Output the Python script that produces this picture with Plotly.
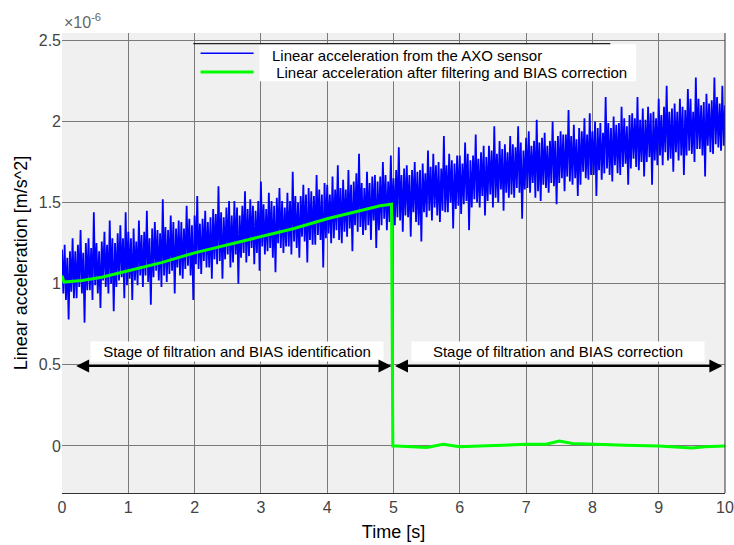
import plotly.graph_objects as go

# ---- data (units of 1e-6 m/s^2) ----
blue_dt = 0.02
blue_vals = [
    1.21, 0.94, 1.24, 0.90, 1.16, 0.78, 1.20, 0.95, 1.28, 0.91,
    1.20, 0.91, 1.24, 0.98, 1.33, 0.94, 1.19, 0.76, 1.25, 0.96,
    1.28, 0.96, 1.22, 0.90, 1.44, 0.99, 1.25, 0.94, 1.20, 0.85,
    1.26, 1.02, 1.32, 0.98, 1.24, 0.94, 1.39, 1.00, 1.28, 0.83,
    1.25, 0.98, 1.31, 1.02, 1.36, 1.04, 1.28, 0.91, 1.44, 0.99,
    1.32, 1.03, 1.28, 0.90, 1.34, 1.02, 1.26, 0.99, 1.39, 1.05,
    1.30, 0.98, 1.32, 1.05, 1.45, 1.01, 1.28, 0.87, 1.34, 1.04,
    1.38, 1.08, 1.33, 1.02, 1.31, 0.98, 1.52, 1.05, 1.35, 1.01,
    1.33, 1.06, 1.42, 1.08, 1.38, 0.94, 1.34, 1.10, 1.39, 1.05,
    1.38, 1.03, 1.34, 1.09, 1.48, 1.11, 1.40, 1.05, 1.36, 0.90,
    1.42, 1.12, 1.54, 1.09, 1.37, 1.06, 1.40, 1.14, 1.45, 1.10,
    1.38, 1.10, 1.41, 1.03, 1.46, 1.15, 1.43, 1.12, 1.60, 1.14,
    1.44, 1.03, 1.41, 1.15, 1.47, 1.18, 1.51, 1.10, 1.42, 1.13,
    1.51, 1.18, 1.47, 1.00, 1.42, 1.16, 1.48, 1.19, 1.57, 1.13,
    1.46, 1.17, 1.52, 1.22, 1.48, 1.12, 1.45, 1.19, 1.51, 1.08,
    1.63, 1.23, 1.49, 1.18, 1.46, 1.20, 1.56, 1.22, 1.51, 1.16,
    1.48, 1.07, 1.53, 1.25, 1.59, 1.22, 1.51, 1.19, 1.47, 1.23,
    1.56, 1.23, 1.51, 1.18, 1.69, 1.26, 1.54, 1.22, 1.50, 1.16,
    1.54, 1.29, 1.61, 1.26, 1.55, 1.13, 1.59, 1.27, 1.57, 1.24,
    1.54, 1.24, 1.67, 1.30, 1.58, 1.27, 1.55, 1.10, 1.62, 1.28,
    1.61, 1.31, 1.55, 1.25, 1.66, 1.28, 1.58, 1.33, 1.73, 1.27,
    1.59, 1.25, 1.64, 1.32, 1.58, 1.29, 1.70, 1.34, 1.61, 1.20,
    1.63, 1.36, 1.68, 1.32, 1.80, 1.35, 1.62, 1.30, 1.59, 1.33,
    1.69, 1.36, 1.62, 1.27, 1.66, 1.39, 1.67, 1.22, 1.63, 1.33,
    1.66, 1.36, 1.75, 1.40, 1.67, 1.33, 1.63, 1.38, 1.79, 1.37,
    1.65, 1.36, 1.70, 1.41, 1.84, 1.39, 1.67, 1.32, 1.71, 1.42,
    1.73, 1.41, 1.67, 1.29, 1.70, 1.44, 1.75, 1.38, 1.69, 1.36,
    1.70, 1.26, 1.74, 1.44, 1.68, 1.41, 1.82, 1.45, 1.72, 1.39,
    1.80, 1.47, 1.73, 1.42, 1.75, 1.38, 1.71, 1.45, 1.91, 1.44,
    1.73, 1.44, 1.80, 1.50, 1.76, 1.34, 1.74, 1.46, 1.79, 1.48,
    1.79, 1.43, 1.74, 1.49, 1.87, 1.51, 1.80, 1.33, 1.76, 1.47,
    1.79, 1.52, 1.92, 1.50, 1.77, 1.47, 1.81, 1.54, 1.85, 1.42,
    1.78, 1.51, 1.85, 1.55, 1.82, 1.47, 1.97, 1.53, 1.80, 1.50,
    1.88, 1.58, 1.83, 1.45, 1.86, 1.56, 1.81, 1.53, 1.91, 1.55,
    1.86, 1.53, 1.84, 1.59, 1.97, 1.56, 1.87, 1.40, 1.82, 1.58,
    1.90, 1.59, 1.94, 1.56, 1.85, 1.62, 1.88, 1.53, 2.01, 1.57,
    1.87, 1.51, 1.90, 1.61, 1.93, 1.59, 1.85, 1.56, 1.88, 1.62,
    2.00, 1.60, 1.88, 1.49, 1.91, 1.62, 1.94, 1.65, 1.92, 1.57,
    1.92, 1.66, 2.07, 1.63, 1.91, 1.61, 1.98, 1.65, 1.89, 1.54,
    1.96, 1.61, 1.94, 1.69, 2.02, 1.65, 1.92, 1.64, 2.05, 1.67,
    1.94, 1.67, 2.00, 1.54, 1.96, 1.70, 1.99, 1.64, 1.93, 1.68,
    2.15, 1.71, 1.99, 1.67, 1.96, 1.63, 2.03, 1.73, 1.98, 1.68,
    1.99, 1.67, 2.09, 1.72, 2.02, 1.74, 1.97, 1.61, 2.04, 1.71,
    2.05, 1.77, 2.02, 1.72, 2.15, 1.70, 2.01, 1.75, 2.08, 1.66,
    2.01, 1.75, 2.09, 1.78, 2.05, 1.61, 2.06, 1.76, 2.02, 1.73,
    2.14, 1.79, 2.04, 1.73, 2.09, 1.81, 2.22, 1.76, 2.06, 1.77,
    2.08, 1.69, 2.11, 1.81, 2.06, 1.76, 2.14, 1.79, 2.09, 1.67,
    2.07, 1.79, 2.20, 1.82, 2.14, 1.80, 2.06, 1.75, 2.27, 1.83,
    2.14, 1.83, 2.10, 1.79, 2.12, 1.66, 2.17, 1.85, 2.11, 1.81,
    2.13, 1.80, 2.27, 1.86, 2.15, 1.84, 2.11, 1.82, 2.22, 1.85,
    2.10,
]
blue_t = [i * blue_dt for i in range(len(blue_vals))]

green_t = [0.0, 0.03, 0.3, 0.6, 1.0, 1.5, 2.0, 2.5, 3.0, 3.5, 4.0, 4.5, 4.8, 4.97, 4.99,
           5.05, 5.3, 5.5, 5.75, 6.0, 6.3, 6.6, 7.0, 7.3, 7.5, 7.7, 8.0, 8.5, 9.0, 9.3, 9.5, 9.7, 10.0]
green_vals = [1.05, 1.01, 1.02, 1.04, 1.08, 1.13, 1.19, 1.24, 1.29, 1.34, 1.40, 1.45, 1.48, 1.49, 0.0,
              0.0, -0.005, -0.01, 0.01, -0.005, 0.0, 0.005, 0.01, 0.01, 0.03, 0.015, 0.01, 0.005, 0.0,
              -0.005, -0.012, -0.005, 0.0]

x_ticks = list(range(0, 11))
y_ticks = [0, 0.5, 1, 1.5, 2, 2.5]
y_tick_text = ["0", "0.5", "1", "1.5", "2", "2.5"]

legend_labels = ["Linear acceleration from the AXO sensor",
                 " Linear acceleration after filtering and BIAS correction"]
stage_labels = ["Stage of filtration and BIAS identification",
                "Stage of filtration and BIAS correction"]

FONT = "Liberation Sans, Arial, sans-serif"
BLUE = "rgb(0,0,255)"
GREEN = "rgb(0,255,0)"

fig = go.Figure()
fig.add_trace(go.Scatter(x=blue_t, y=blue_vals, mode="lines",
                         line=dict(color=BLUE, width=1.8), showlegend=False))
fig.add_trace(go.Scatter(x=green_t, y=green_vals, mode="lines",
                         line=dict(color=GREEN, width=3), showlegend=False))

shapes = []
# right border line
shapes.append(dict(type="line", xref="paper", yref="paper", x0=1, x1=1, y0=0, y1=1,
                   line=dict(color="#333333", width=1), layer="above"))
# legend box
shapes.append(dict(type="rect", xref="x", yref="y", x0=2.977, x1=8.66, y0=2.248, y1=2.475,
                   fillcolor="white", line=dict(width=0), layer="above"))
shapes.append(dict(type="line", xref="x", yref="y", x0=1.98, x1=8.27, y0=2.48, y1=2.48,
                   line=dict(color="#222222", width=1.2), layer="above"))
shapes.append(dict(type="line", xref="x", yref="y", x0=2.09, x1=2.89, y0=2.42, y1=2.42,
                   line=dict(color=BLUE, width=1.5), layer="above"))
shapes.append(dict(type="line", xref="x", yref="y", x0=2.09, x1=2.89, y0=2.305, y1=2.305,
                   line=dict(color=GREEN, width=3), layer="above"))

annotations = []
annotations.append(dict(x=3.13, y=2.407, xref="x", yref="y", text=legend_labels[0],
                        showarrow=False, xanchor="left", yanchor="middle",
                        font=dict(family=FONT, size=15, color="black")))
annotations.append(dict(x=3.13, y=2.303, xref="x", yref="y", text=legend_labels[1],
                        showarrow=False, xanchor="left", yanchor="middle",
                        font=dict(family=FONT, size=15, color="black")))
# stage labels
annotations.append(dict(x=2.64, y=0.585, xref="x", yref="y", text=stage_labels[0],
                        showarrow=False, bgcolor="white", borderpad=0, width=292, height=19,
                        font=dict(family=FONT, size=15, color="black")))
annotations.append(dict(x=7.48, y=0.585, xref="x", yref="y", text=stage_labels[1],
                        showarrow=False, bgcolor="white", borderpad=0, width=292, height=19,
                        font=dict(family=FONT, size=15, color="black")))
# double-headed arrows
for (xa, xb) in [(0.19, 4.97), (5.0, 9.96)]:
    annotations.append(dict(x=xb, y=0.493, ax=xa, ay=0.493, xref="x", yref="y",
                            axref="x", ayref="y", text="", showarrow=True,
                            arrowhead=2, arrowside="end+start", arrowsize=1.3,
                            arrowwidth=2, arrowcolor="black", standoff=0, startstandoff=0))
# exponent label
annotations.append(dict(x=0, y=1.0, xref="paper", yref="paper", text="×10<sup>-6</sup>",
                        showarrow=False, xanchor="left", yanchor="bottom", yshift=0,
                        font=dict(family=FONT, size=16, color="#666666")))

fig.update_layout(
    width=734, height=545,
    margin=dict(l=62, r=9, t=33, b=52, autoexpand=False),
    paper_bgcolor="white", plot_bgcolor="#f0f0f0",
    shapes=shapes, annotations=annotations,
    font=dict(family=FONT, size=16, color="#444444"),
    xaxis=dict(range=[0, 10], tickvals=x_ticks, ticktext=[str(v) for v in x_ticks],
               showgrid=True, gridcolor="#7a7a7a", gridwidth=1, zeroline=False,
               showline=True, linecolor="#333333", linewidth=1, ticks="",
               ticklabeloverflow="allow", automargin=False,
               tickfont=dict(family=FONT, size=16, color="#444444"),
               title=dict(text="Time [s]", font=dict(family=FONT, size=18, color="black"),
                          standoff=10)),
    yaxis=dict(range=[-0.29, 2.545], tickvals=y_ticks, ticktext=y_tick_text,
               showgrid=True, gridcolor="#7a7a7a", gridwidth=1, zeroline=False,
               showline=False, ticks="", ticklen=0, automargin=False,
               tickfont=dict(family=FONT, size=16, color="#444444"),
               title=dict(text="Linear acceleration [m/s^2]",
                          font=dict(family=FONT, size=18, color="black"), standoff=6)),
)

fig.write_html("out.html", config={"displayModeBar": False},
               post_script="document.body.style.margin='0px';")
